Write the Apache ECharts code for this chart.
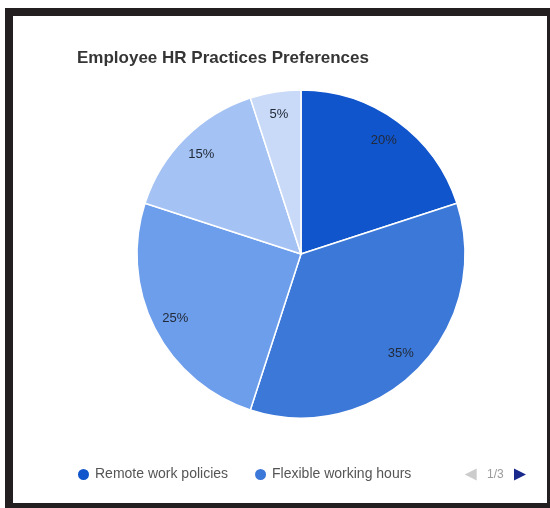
<!DOCTYPE html>
<html>
<head>
<meta charset="utf-8">
<script src="https://cdn.jsdelivr.net/npm/echarts@6/dist/echarts.min.js"></script>
<style>
  html, body { margin: 0; padding: 0; background: #ffffff; width: 550px; height: 508px; overflow: hidden; }
  #frame { position: absolute; left: 5px; top: 8px; width: 545px; height: 500px; background: #231f20; }
  #chart { position: absolute; left: 13px; top: 16px; width: 534px; height: 487px; background: #ffffff; }
</style>
</head>
<body>
<div id="frame"></div>
<div id="chart"></div>
<script>
// Share of employees preferring each HR practice (%)
const categories = [
  'Remote work policies',
  'Flexible working hours',
  'Wellness',
  'Training',
  'Paid time off'
];
const shares = [20, 35, 25, 15, 5];
const sliceColors = ['#1155cc', '#3c78d8', '#6d9eeb', '#a4c2f4', '#c9daf8'];

const FONT = '"Liberation Sans", Arial, sans-serif';
const pieCenter = [288, 238];
const pieRadius = 164;

const sliceData = categories.map((name, i) => ({
  name,
  value: shares[i],
  itemStyle: { color: sliceColors[i] }
}));

const chart = echarts.init(document.getElementById('chart'), null, { renderer: 'canvas' });

chart.setOption({
  backgroundColor: '#ffffff',
  animation: false,
  title: {
    text: 'Employee HR Practices Preferences',
    left: 59,
    top: 29,
    textStyle: { fontFamily: FONT, fontSize: 17, fontWeight: 'bold', color: '#353535' }
  },
  legend: {
    type: 'scroll',
    orient: 'horizontal',
    data: categories,
    left: 58,
    width: 450,
    top: 446,
    icon: 'circle',
    itemWidth: 13,
    itemHeight: 13,
    itemGap: 25,
    textStyle: { fontFamily: FONT, fontSize: 14, color: '#555555' },
    pageButtonPosition: 'end',
    pageButtonGap: 50,
    pageButtonItemGap: 5,
    pageIcons: {
      horizontal: ['path://M12,0L0,6L12,12z', 'path://M0,0L12,6L0,12z']
    },
    pageIconSize: [12, 12],
    pageIconColor: '#1a2a8c',
    pageIconInactiveColor: '#cccccc',
    pageTextStyle: { fontFamily: FONT, fontSize: 12, color: '#9a9a9a' }
  },
  series: [
    {
      // filled slices
      type: 'pie',
      center: pieCenter,
      radius: pieRadius,
      startAngle: 90,
      clockwise: true,
      silent: true,
      label: { show: false },
      labelLine: { show: false },
      itemStyle: { borderColor: '#ffffff', borderWidth: 1.5 },
      data: sliceData
    },
    {
      // percentage labels, set in the outer band of the slices
      type: 'pie',
      center: pieCenter,
      radius: [112, pieRadius],
      startAngle: 90,
      clockwise: true,
      silent: true,
      itemStyle: { color: 'rgba(0,0,0,0)' },
      label: {
        show: true,
        position: 'inside',
        formatter: '{c}%',
        fontFamily: FONT,
        fontSize: 13,
        color: '#222a38'
      },
      labelLine: { show: false },
      data: categories.map((name, i) => ({ name, value: shares[i] }))
    }
  ]
});
</script>
</body>
</html>
